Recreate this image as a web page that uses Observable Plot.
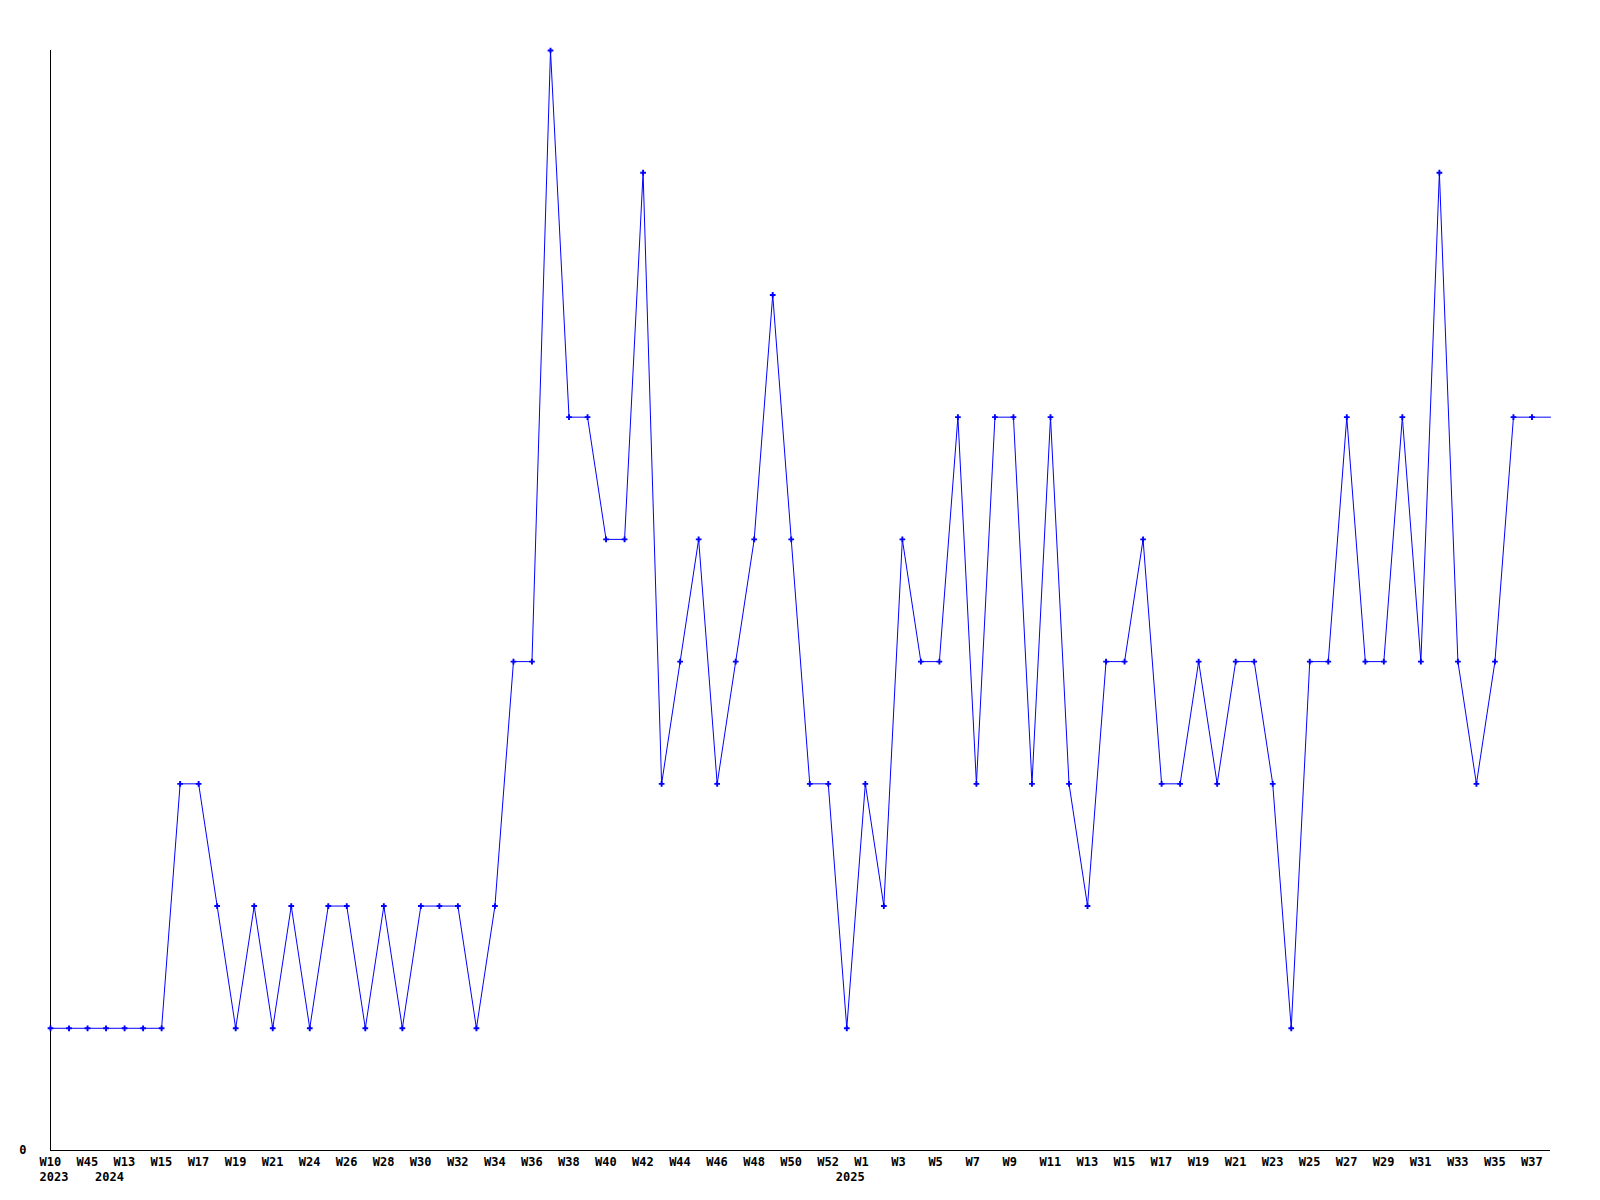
<!DOCTYPE html>
<html>
<head>
<meta charset="utf-8">
<script src="https://cdn.jsdelivr.net/npm/d3@7"></script>
<script src="https://cdn.jsdelivr.net/npm/@observablehq/plot@0.6"></script>
<style>
  html, body { margin: 0; padding: 0; background: #fff; }
  #chart svg { display: block; }
</style>
</head>
<body>
<div id="chart"></div>
<script>
// Week labels, one per data point (only every other one is printed on the axis)
const weeks = [
  "W10", "W44", "W45",
  "W12", "W13", "W14", "W15", "W16", "W17", "W18", "W19", "W20", "W21", "W23",
  "W24", "W25", "W26", "W27", "W28", "W29", "W30", "W31", "W32", "W33", "W34",
  "W35", "W36", "W37", "W38", "W39", "W40", "W41", "W42", "W43", "W44", "W45",
  "W46", "W47", "W48", "W49", "W50", "W51", "W52", "W53",
  "W1", "W2", "W3", "W4", "W5", "W6", "W7", "W8", "W9", "W10", "W11", "W12",
  "W13", "W14", "W15", "W16", "W17", "W18", "W19", "W20", "W21", "W22", "W23",
  "W24", "W25", "W26", "W27", "W28", "W29", "W30", "W31", "W32", "W33", "W34",
  "W35", "W36", "W37", "W38"
];

// Series values (one per week)
const values = [
  1, 1, 1, 1, 1, 1, 1, 3, 3, 2,
  1, 2, 1, 2, 1, 2, 2, 1, 2, 1,
  2, 2, 2, 1, 2, 4, 4, 9, 6, 6,
  5, 5, 8, 3, 4, 5, 3, 4, 5, 7,
  5, 3, 3, 1, 3, 2, 5, 4, 4, 6,
  3, 6, 6, 3, 6, 3, 2, 4, 4, 5,
  3, 3, 4, 3, 4, 4, 3, 1, 4, 4,
  6, 4, 4, 6, 4, 8, 4, 3, 4, 6,
  6, 6
];

// Year labels: index of the first point of each year
const yearIndex = [0, 3, 43];
const yearLabels = ["2023", "2024", "2025"];

// y tick labels
const yTicks = [0];

const data = values.map((v, i) => ({ i, week: weeks[i], value: v }));
const marked = data.slice(0, data.length - 1);          // last point is drawn without a marker
const weekTicks = data.filter((d, k) => k % 2 === 0 && k < data.length - 1);
const years = yearIndex.map((i, k) => ({ i, year: yearLabels[k] }));

const font = "'DejaVu Sans Mono', 'Liberation Mono', monospace";
const blue = "#0000ff";

const chart = Plot.plot({
  width: 1600,
  height: 1200,
  marginLeft: 50,
  marginRight: 50,
  marginTop: 50,
  marginBottom: 50,
  style: { fontFamily: font, fontSize: "12px", fontWeight: "bold", background: "#fff", color: "#000" },
  x: { type: "linear", domain: [0, values.length - 1], axis: null },
  y: { type: "linear", domain: [0, 9], axis: null },
  marks: [
    Plot.ruleX([0], { stroke: "#000", strokeWidth: 1 }),
    Plot.ruleY([0], { stroke: "#000", strokeWidth: 1 }),
    Plot.line(data, { x: "i", y: "value", stroke: blue, strokeWidth: 1, curve: "linear" }),
    Plot.dot(marked, { x: "i", y: "value", symbol: "cross", r: 2.4, fill: blue, stroke: null }),
    Plot.text(weekTicks, {
      x: "i", y: () => 0, text: "week",
      textAnchor: "start", dx: -11, dy: 12,
      fontFamily: font, fontSize: 12, fontWeight: "bold", fill: "#000"
    }),
    Plot.text(years, {
      x: "i", y: () => 0, text: "year",
      textAnchor: "start", dx: -11, dy: 27,
      fontFamily: font, fontSize: 12, fontWeight: "bold", fill: "#000"
    }),
    Plot.text(yTicks, {
      x: () => 0, y: d => d, text: d => String(d),
      textAnchor: "end", dx: -24,
      fontFamily: font, fontSize: 12, fontWeight: "bold", fill: "#000"
    })
  ]
});

document.getElementById("chart").appendChild(chart);
</script>
</body>
</html>
